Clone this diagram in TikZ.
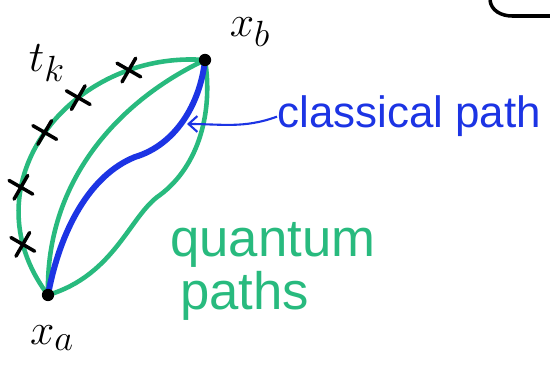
\documentclass[tikz,border=0pt]{standalone}
\usepackage{fontspec}
\setsansfont{Liberation Sans}
\usetikzlibrary{arrows.meta,shapes.misc}
\definecolor{mintgreen}{RGB}{40,186,126}
\definecolor{penblue}{RGB}{28,52,228}

\begin{document}
\begin{tikzpicture}[x=0.02cm,y=-0.02cm,
    qpath/.style={mintgreen,line width=2.6pt,line cap=round,line join=round},
    cpath/.style={penblue,line width=3.4pt,line cap=round},
    tick/.style={cross out,draw=black,line width=2pt,minimum size=9pt,inner sep=0pt,rotate=15},
    endpt/.style={circle,fill=black,inner sep=0pt,minimum size=7pt},
    ptlabel/.style={font=\fontsize{30}{30}\selectfont,inner sep=0pt},
    note/.style={font=\sffamily\fontsize{#1}{#1}\selectfont,inner sep=0pt,anchor=base west}]
  \useasboundingbox (0,0) rectangle (550,367);
  \coordinate (xa) at (48,295);
  \coordinate (xb) at (205,60);
  % quantum paths
  \draw[qpath] (xa) .. controls (-35,185) and (70,50) .. (xb)
     node[tick,pos=0.15] (k1) {}
     node[tick,pos=0.32] (k2) {}
     node[tick,pos=0.5] (k3) {}
     node[tick,pos=0.64] (k4) {}
     node[tick,pos=0.8] (k5) {};
  \draw[qpath] (xb) .. controls (120,100) and (45,180) .. (xa);
  \draw[qpath] (xb) .. controls (213,110) and (200,165) .. (160,195)
     .. controls (130,215) and (115,275) .. (xa);
  % classical path
  \draw[cpath] (xb) .. controls (200,105) and (175,145) .. (135,157)
     .. controls (90,175) and (60,230) .. (xa);
  \node[endpt] (dota) at (xa) {};
  \node[endpt] (dotb) at (xb) {};
  % labels
  \node[ptlabel] (la) at (52,338) {$x_a$};
  \node[ptlabel] (lb) at (250,32) {$x_b$};
  \node[ptlabel] (lt) at (47,63) {$t_k$};
  \node[note=25,penblue] (cl) at (277,128) {classical path};
  \coordinate (hit) at (187,124);
  \draw[penblue,line width=1.2pt,-{Straight Barb[length=5pt,width=9pt]}]
     (cl.west) to[out=200,in=0] (hit);
  \node[note=30,mintgreen] (qu) at (170,257) {quantum};
  \node[note=30,mintgreen] (pa) at (180,310) {paths};
  % corner of a box at the top right
  \draw[black,line width=2pt] (490,0) to[out=-85,in=180] (512,16) -- (550,16);
\end{tikzpicture}
\end{document}
